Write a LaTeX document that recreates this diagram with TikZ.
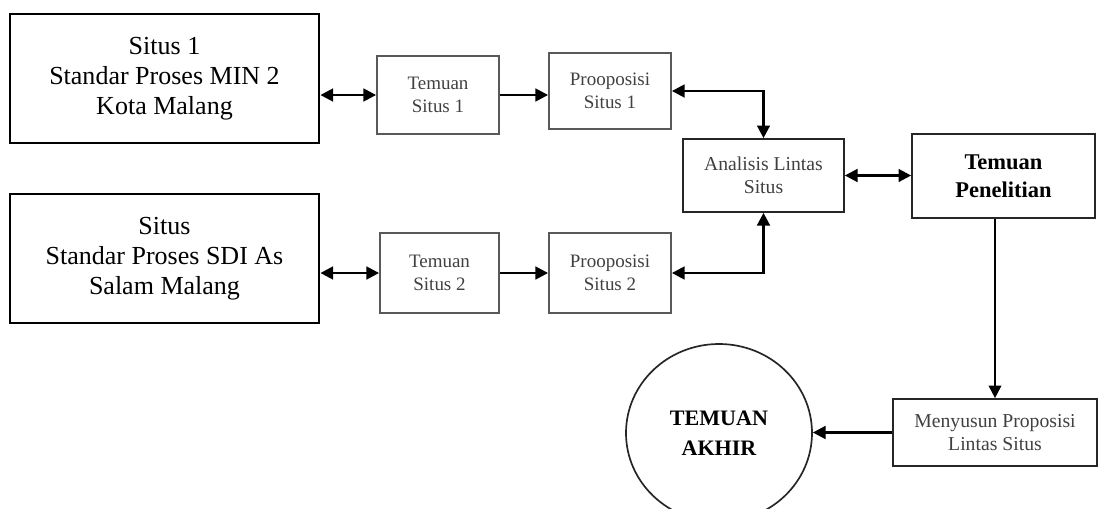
\documentclass[tikz,border=0pt]{standalone}
\usepackage{fontspec}
\setmainfont{Liberation Serif}
\usepackage{tikz}
\usetikzlibrary{arrows.meta, shapes.geometric}

\newcommand{\pxu}{0.025cm}

\begin{document}
\begin{tikzpicture}[x=0.025cm, y=-0.025cm,
  site/.style={draw, line width=2pt, align=center, inner sep=0pt,
    font=\fontsize{18.5}{21.5}\selectfont,
    minimum width=309*\pxu, minimum height=129*\pxu},
  small/.style={draw=black!65, line width=1.3pt, align=center, inner sep=0pt,
    text=black!75, font=\fontsize{13.5}{16.4}\selectfont},
  mid/.style={draw=black!85, line width=1.2pt, align=center, inner sep=0pt},
  link/.style={line width=1.8pt, -{Triangle[length=9pt,width=9pt]}},
  both/.style={line width=1.8pt, {Triangle[length=9pt,width=9pt]}-{Triangle[length=9pt,width=9pt]}}]
  \useasboundingbox (0,0) rectangle (1101,508);
  % Sites
  \node[site] (s1) at (164.5, 78.5) {Situs 1\\Standar Proses MIN 2\\Kota Malang};
  \node[site] (s2) at (164.5, 258.5) {Situs\\Standar Proses SDI As\\Salam Malang};
  % Findings per site
  \node[small, minimum width=122*\pxu, minimum height=78*\pxu] (t1) at (438, 95) {Temuan\\Situs 1};
  \node[small, minimum width=119*\pxu, minimum height=80*\pxu] (t2) at (439.5, 273) {Temuan\\Situs 2};
  % Propositions per site
  \node[small, minimum width=122*\pxu, minimum height=76*\pxu] (p1) at (610, 91) {Prooposisi\\Situs 1};
  \node[small, minimum width=122*\pxu, minimum height=80*\pxu] (p2) at (610, 273) {Prooposisi\\Situs 2};
  % Cross-site analysis
  \node[mid, text=black!75, font=\fontsize{14}{16.4}\selectfont,
    minimum width=161*\pxu, minimum height=73*\pxu] (an) at (763.5, 175.5) {Analisis Lintas\\Situs};
  \node[mid, font=\fontsize{16}{20}\selectfont\bfseries,
    minimum width=183*\pxu, minimum height=84*\pxu] (tp) at (1003.5, 176) {Temuan\\Penelitian};
  \node[mid, text=black!75, font=\fontsize{14}{16.4}\selectfont,
    minimum width=204*\pxu, minimum height=67*\pxu] (mp) at (995, 432.5) {Menyusun Proposisi\\Lintas Situs};
  % Final finding
  \node[mid, ellipse, font=\fontsize{15.7}{21.5}\selectfont\bfseries,
    minimum width=186*\pxu, minimum height=178*\pxu] (ak) at (719, 433) {TEMUAN\\AKHIR};
  % Connectors
  \draw[both] (s1.east |- t1.west) -- (t1.west);
  \draw[both] (s2.east |- t2.west) -- (t2.west);
  \draw[link] (t1.east) -- (t1.east -| p1.west);
  \draw[link] (t2.east) -- (t2.east -| p2.west);
  \draw[both] (p1.east) -| (an.north);
  \draw[both] (an.south) |- (p2.east);
  \draw[both] (an.east) -- (an.east -| tp.west);
  \draw[link, line width=1.4pt] (mp.north |- tp.south) -- (mp.north);
  \draw[link] (mp.west) -- (mp.west -| ak.east);
\end{tikzpicture}
\end{document}
